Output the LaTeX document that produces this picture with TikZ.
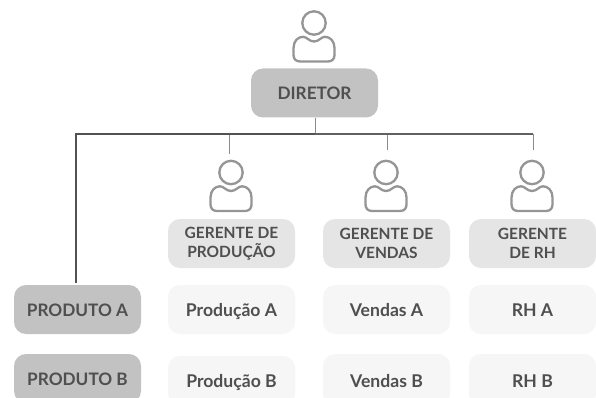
\documentclass[tikz,border=0pt]{standalone}
\usepackage{fontspec}
\setmainfont{Lato}
\definecolor{txt}{HTML}{4F4F4F}
\definecolor{icn}{HTML}{959595}
\tikzset{x=1pt,y=-1pt,
  boxbase/.style={rounded corners=12pt,minimum width=127pt,minimum height=49pt,inner sep=0pt,align=center,text=txt,font=\fontsize{17.2}{20}\selectfont\bfseries},
  oneline/.style={text height=14pt,text depth=0pt},
  dark/.style={boxbase,oneline,fill=black!24},
  midbox/.style={boxbase,fill=black!10,font=\fontsize{15.5}{18.5}\selectfont\bfseries},
  light/.style={boxbase,oneline,fill=black!3.5,font=\fontsize{17.6}{20}\selectfont\bfseries},
  mainline/.style={draw=black!68,line width=1.3pt},
  thinline/.style={draw=black!62,line width=1.1pt},
  stub/.style={draw=black!45,line width=0.8pt},
  person/.pic={
    \draw[icn,line width=2.3pt] (0,0) circle[radius=11.7];
    \draw[icn,line width=2.3pt,line join=round] (-14,38.5) .. controls (-18,38.5) and (-20.5,36) .. (-20.5,32) -- (-20.5,25)
      .. controls (-20.5,18) and (-16,13.8) .. (-11,13.8) .. controls (-7,13.8) and (-5,18.5) .. (0,18.5)
      .. controls (5,18.5) and (7,13.8) .. (11,13.8) .. controls (16,13.8) and (20.5,18) .. (20.5,25)
      -- (20.5,32) .. controls (20.5,36) and (18,38.5) .. (14,38.5) -- cycle;
  }}
\begin{document}
\begin{tikzpicture}
\useasboundingbox (0,0) rectangle (596,398);
\clip (0,0) rectangle (596,398);
\fill[white] (0,0) rectangle (596,398);
\pic at (314,23) {person};
\pic at (231,172.5) {person};
\pic at (386,172.5) {person};
\pic at (532,172.5) {person};
\node[dark] (dir) at (314.5,93) {DIRETOR};
\node[dark] (pa) at (77.5,309.5) {PRODUTO A};
\node[dark] (pb) at (77.5,378.5) {PRODUTO B};
\node[midbox] (gp) at (231.5,243.5) {GERENTE DE\\PRODUÇÃO};
\node[midbox] (gv) at (386.5,243.5) {GERENTE DE\\VENDAS};
\node[midbox] (gr) at (532.5,243.5) {GERENTE\\DE RH};
\node[light] (pra) at (231.5,309.5) {Produção A};
\node[light] (prb) at (231.5,380.5) {Produção B};
\node[light] (va) at (386.5,309.5) {Vendas A};
\node[light,minimum height=52pt] (vb) at (386.5,380) {Vendas B};
\node[light] (ra) at (532.5,309.5) {RH A};
\node[light,minimum height=52pt] (rb) at (532.5,380) {RH B};
\coordinate (jd) at (315,134);
\coordinate (jl) at (76,134);
\coordinate (jp) at (229,134);
\coordinate (jv) at (387,134);
\coordinate (jr) at (533,134);
\coordinate (ep) at (229,154);
\coordinate (ev) at (387,150);
\coordinate (er) at (533,150);
\coordinate (ea) at (76,283);
\draw[stub] (dir.south -| jd) -- (jd);
\draw[stub] (jp) -- (ep);
\draw[stub] (jv) -- (ev);
\draw[stub] (jr) -- (er);
\draw[mainline] (ea) -- (jl) -- (jd);
\draw[thinline] (jd) -- (jr);
\end{tikzpicture}
\end{document}
